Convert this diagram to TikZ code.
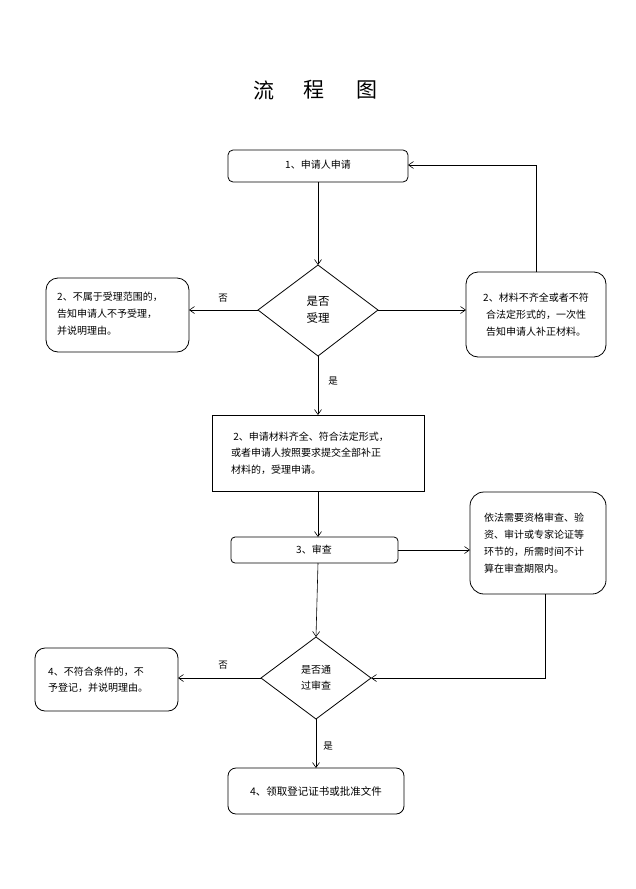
\documentclass[tikz,border=0pt]{standalone}
\usepackage{fontspec}
\setmainfont{Noto Sans CJK SC}
\usetikzlibrary{arrows.meta}
\tikzset{
  rbox/.style={draw, line width=0.8pt, rounded corners=8pt, inner sep=0pt},
  sbox/.style={draw, line width=0.8pt, inner sep=0pt},
  txt/.style={font=\fontsize{10pt}{17pt}\selectfont, inner sep=0pt},
  conn/.style={line width=0.6pt, -{Straight Barb[length=5pt,width=7pt]}},
  lbl/.style={font=\fontsize{9.5pt}{11pt}\selectfont, inner sep=0pt}
}
\begin{document}
\begin{tikzpicture}[x=1pt,y=-1pt]
\useasboundingbox (0,0) rectangle (635,889);
% title
\node[font=\fontsize{21pt}{24pt}\selectfont, inner sep=0pt] (t1) at (264,90) {流};
\node[font=\fontsize{21pt}{24pt}\selectfont, inner sep=0pt] (t2) at (314,90) {程};
\node[font=\fontsize{21pt}{24pt}\selectfont, inner sep=0pt] (t3) at (367,90) {图};
% box 1
\draw[rbox, rounded corners=5pt] (228,150) rectangle (408,182);
\node[txt] (b1) at (318,165) {1、申请人申请};
% diamond 1
\coordinate (d1t) at (318,265);
\coordinate (d1b) at (318,356);
\coordinate (d1l) at (258,310);
\coordinate (d1r) at (378,310);
\draw[line width=0.8pt] (d1t) -- (d1r) -- (d1b) -- (d1l) -- cycle;
\node[font=\fontsize{11.5pt}{17pt}\selectfont, align=center, inner sep=0pt] (d1) at (318,310) {是否\\受理};
% left box 1
\draw[rbox, rounded corners=12pt] (46,278) rectangle (189,352);
\coordinate (lb1) at (189,310);
\node[txt, align=left, anchor=west] (lt1) at (57,314) {2、不属于受理范围的，\\告知申请人不予受理，\\并说明理由。};
% right box 1
\draw[rbox, rounded corners=12pt] (466,272) rectangle (606,357);
\coordinate (rb1l) at (466,310);
\coordinate (rb1t) at (536,272);
\node[txt, align=center] (rt1) at (536,315) {2、材料不齐全或者不符\\合法定形式的，一次性\\告知申请人补正材料。};
% box 3
\draw[sbox] (212,415) rectangle (424,491);
\coordinate (b3t) at (318,415);
\coordinate (b3b) at (318,491);
\node[txt, align=left, anchor=west, font=\fontsize{10pt}{16.5pt}\selectfont] (b3) at (231,453) {\ 2、申请材料齐全、符合法定形式，\\或者申请人按照要求提交全部补正\\材料的，受理申请。};
% box 4
\draw[rbox, rounded corners=4pt] (231,537) rectangle (398,563);
\coordinate (b4t) at (318,537);
\coordinate (b4b) at (318,563);
\coordinate (b4r) at (398,550);
\node[txt] (b4) at (314,550) {3、审查};
% right box 2
\draw[rbox, rounded corners=14pt] (470,492) rectangle (606,594);
\coordinate (rb2l) at (470,550);
\coordinate (rb2b) at (545,594);
\node[txt, align=left, anchor=west, font=\fontsize{10pt}{17.2pt}\selectfont] (rt2) at (484,543) {依法需要资格审查、验\\资、审计或专家论证等\\环节的，所需时间不计\\算在审查期限内。};
% diamond 2
\coordinate (d2t) at (316,637);
\coordinate (d2b) at (316,719);
\coordinate (d2l) at (261,678);
\coordinate (d2r) at (371,678);
\draw[line width=0.8pt] (d2t) -- (d2r) -- (d2b) -- (d2l) -- cycle;
\node[txt, align=center, font=\fontsize{10pt}{16pt}\selectfont] (d2) at (316,678) {是否通\\过审查};
% left box 2
\draw[rbox, rounded corners=10pt] (35,648) rectangle (178,711);
\coordinate (lb2) at (178,678);
\node[txt, align=left, anchor=west, font=\fontsize{10pt}{16pt}\selectfont] (lt2) at (48,680) {4、不符合条件的，不\\予登记，并说明理由。};
% final box
\draw[rbox, rounded corners=8pt] (228,768) rectangle (404,814);
\coordinate (fbt) at (316,768);
\node[txt, font=\fontsize{10.5pt}{12pt}\selectfont] (fb) at (316,791) {4、领取登记证书或批准文件};
% connectors
\coordinate (b1b) at (318,182);
\coordinate (b1r) at (408,165);
\coordinate (c1) at (536,165);
\coordinate (c2) at (545,678);
\draw[conn] (b1b) -- (d1t);
\draw[conn] (d1l) -- (lb1);
\draw[conn] (d1r) -- (rb1l);
\draw[conn] (rb1t) -- (c1) -- (b1r);
\draw[conn] (d1b) -- (b3t);
\draw[conn] (b3b) -- (b4t);
\draw[conn] (b4r) -- (rb2l);
\draw[conn] (rb2b) -- (c2) -- (d2r);
\draw[conn] (b4b) -- (d2t);
\draw[conn] (d2l) -- (lb2);
\draw[conn] (d2b) -- (fbt);
% labels
\node[lbl] (n1) at (223,298) {否};
\node[lbl] (y1) at (333,381) {是};
\node[lbl] (n2) at (223,665) {否};
\node[lbl] (y2) at (328,746) {是};
\end{tikzpicture}
\end{document}
